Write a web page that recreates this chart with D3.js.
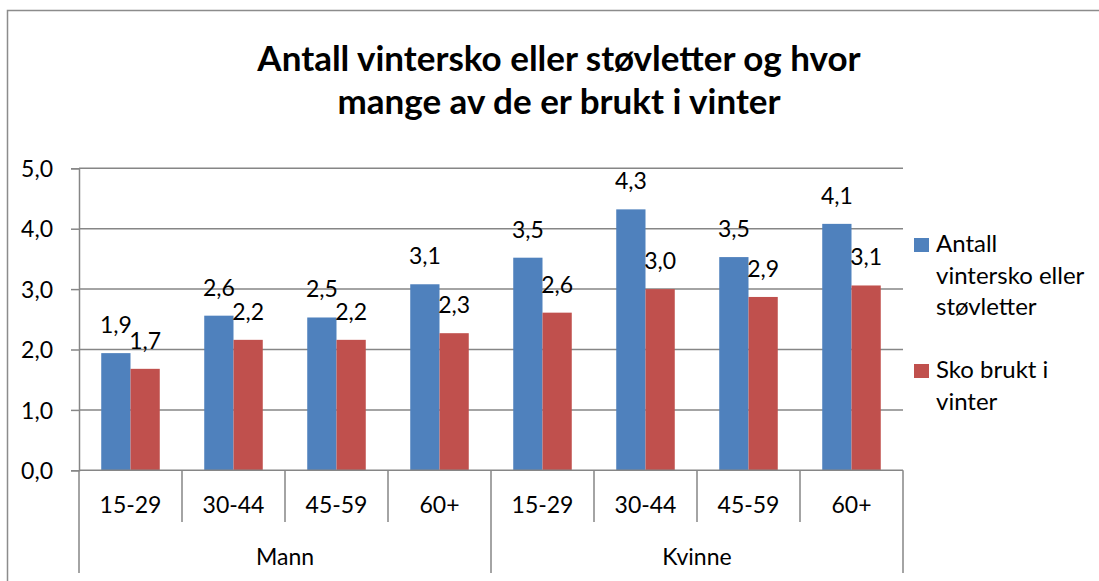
<!DOCTYPE html>
<meta charset="utf-8" />
<style>
  body { margin: 0; background: #fff; overflow: hidden; }
  svg { display: block; }
  text { font-family: Lato, "Noto Sans", sans-serif; fill: #000; }
</style>
<body>
  <div id="chart"></div>
  <script src="https://d3js.org/d3.v7.min.js"></script>
  <script>
    // data
    var groups = ["Mann", "Kvinne"];
    var ages = ["15-29", "30-44", "45-59", "60+"];
    var seriesNames = ["Antall vintersko eller støvletter", "Sko brukt i vinter"];
    var legendLines = [["Antall", "vintersko eller", "støvletter"], ["Sko brukt i", "vinter"]];
    var antall = [1.94, 2.56, 2.53, 3.08, 3.52, 4.32, 3.53, 4.08];
    var brukt = [1.68, 2.16, 2.16, 2.27, 2.61, 3.0, 2.87, 3.06];
    var yTicks = [0, 1, 2, 3, 4, 5];
    var titleLines = ["Antall vintersko eller støvletter og hvor", "mange av de er brukt i vinter"];
    var colors = ["#4f81bd", "#c0504d"];

    var W = 1099, H = 581;
    var plotL = 79, plotR = 903, plotT = 168.3, plotB = 470.3;
    var fs = "23px";

    var svg = d3.select("#chart").append("svg")
      .attr("width", W).attr("height", H);

    // chart frame
    svg.append("rect")
      .attr("x", 7.5).attr("y", 10.5)
      .attr("width", W + 20).attr("height", H + 20)
      .attr("fill", "none").attr("stroke", "#8c8c8c").attr("stroke-width", 1.5);

    // categories = every group x age
    var cats = [];
    groups.forEach(function (g) {
      ages.forEach(function (a) { cats.push({ group: g, age: a, key: g + "|" + a }); });
    });

    var x = d3.scaleBand().domain(cats.map(function (d) { return d.key; }))
      .range([plotL, plotR]).padding(0);
    var xs = d3.scaleBand().domain([0, 1])
      .range([0, x.bandwidth()]).paddingOuter(0.76).paddingInner(0);
    var y = d3.scaleLinear().domain([0, 5]).range([plotB, plotT]);

    // gridlines
    svg.append("g").selectAll("line").data(yTicks.slice(1)).join("line")
      .attr("x1", plotL).attr("x2", plotR)
      .attr("y1", function (d) { return y(d); }).attr("y2", function (d) { return y(d); })
      .attr("stroke", "#868686").attr("stroke-width", 1.5);

    // y axis
    var yAxis = svg.append("g")
      .attr("transform", "translate(" + plotL + ",0)")
      .call(d3.axisLeft(y).tickValues(yTicks).tickSize(8).tickPadding(18)
        .tickFormat(function (d) { return d3.format(".1f")(d).replace(".", ","); }));
    yAxis.select(".domain").attr("stroke", "#868686").attr("stroke-width", 1.5);
    yAxis.selectAll(".tick line").attr("stroke", "#868686").attr("stroke-width", 1.5);
    yAxis.selectAll(".tick text").style("font-size", fs)
      .style("font-family", "Lato, sans-serif").attr("fill", "#000").attr("dy", "0.36em");

    // bars
    var series = [antall, brukt];
    series.forEach(function (vals, si) {
      svg.append("g").selectAll("rect").data(cats).join("rect")
        .attr("x", function (d) { return x(d.key) + xs(si); })
        .attr("width", xs.bandwidth())
        .attr("y", function (d, i) { return y(vals[i]); })
        .attr("height", function (d, i) { return plotB - y(vals[i]); })
        .attr("fill", colors[si]);
    });

    // value labels
    series.forEach(function (vals, si) {
      svg.append("g").selectAll("text").data(cats).join("text")
        .attr("x", function (d) { return x(d.key) + xs(si) + xs.bandwidth() / 2; })
        .attr("y", function (d, i) { return y(vals[i]) - 20; })
        .attr("text-anchor", "middle")
        .style("font-size", fs)
        .text(function (d, i) { return d3.format(".1f")(vals[i]).replace(".", ","); });
    });

    // x axis (two levels)
    var xg = svg.append("g");
    xg.append("line").attr("x1", plotL).attr("x2", plotR)
      .attr("y1", plotB).attr("y2", plotB)
      .attr("stroke", "#868686").attr("stroke-width", 1.5);
    var bounds = cats.map(function (d) { return x(d.key); }).concat([plotR]);
    xg.selectAll(".sep").data(bounds).join("line")
      .attr("x1", function (d) { return d; }).attr("x2", function (d) { return d; })
      .attr("y1", plotB)
      .attr("y2", function (d, i) { return i % ages.length === 0 ? 573 : 522; })
      .attr("stroke", "#868686").attr("stroke-width", 1.5);
    xg.selectAll(".age").data(cats).join("text")
      .attr("x", function (d) { return x(d.key) + x.bandwidth() / 2; })
      .attr("y", plotB + 43)
      .attr("text-anchor", "middle")
      .style("font-size", fs)
      .text(function (d) { return d.age; });
    xg.selectAll(".grp").data(groups).join("text")
      .attr("x", function (g) {
        var k = cats.filter(function (d) { return d.group === g; });
        return (x(k[0].key) + x(k[k.length - 1].key) + x.bandwidth()) / 2;
      })
      .attr("y", 565)
      .attr("text-anchor", "middle")
      .style("font-size", fs)
      .text(function (g) { return g; });

    // title
    svg.append("g").selectAll("text").data(titleLines).join("text")
      .attr("x", 559)
      .attr("y", function (d, i) { return 71 + i * 43; })
      .attr("text-anchor", "middle")
      .style("font-size", "35px")
      .style("font-weight", "bold")
      .text(function (d) { return d; });

    // legend
    var legY = [252, 378];
    var leg = svg.append("g");
    legendLines.forEach(function (lines, si) {
      leg.append("rect")
        .attr("x", 914).attr("y", legY[si] - 14)
        .attr("width", 15).attr("height", 14)
        .attr("fill", colors[si]);
      var t = leg.append("text").attr("x", 936).attr("y", legY[si])
        .style("font-size", "24px");
      t.append("title").text(seriesNames[si]);
      lines.forEach(function (ln, j) {
        t.append("tspan").attr("x", 936).attr("y", legY[si] + j * 31.5).text(ln);
      });
    });
  </script>
</body>
